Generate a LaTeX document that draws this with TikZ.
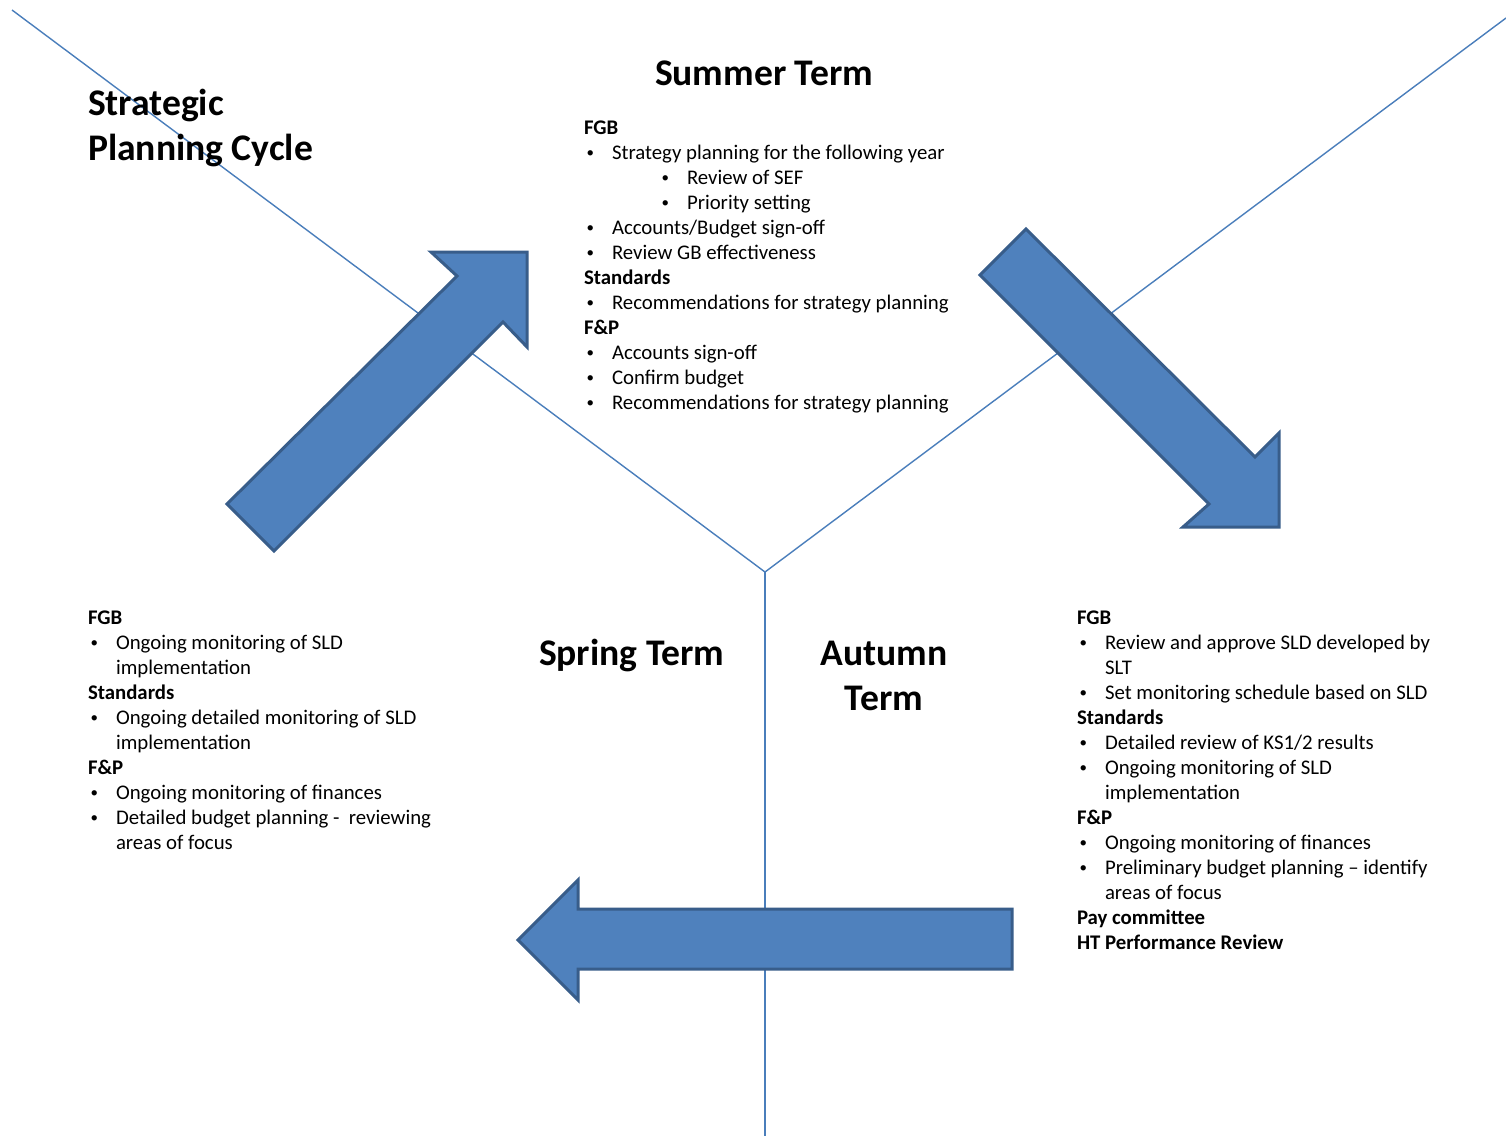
\documentclass[tikz,border=0pt]{standalone}
\usepackage{fontspec}
\setmainfont{Carlito}
\definecolor{arrowfill}{HTML}{4F81BD}
\definecolor{arrowedge}{HTML}{385D8A}
\definecolor{guide}{HTML}{4A7EBB}
\newcommand\mydot{\raisebox{1.6pt}{\scalebox{0.72}{•}}}
\newcommand\myhd[1]{\textbf{#1}\par}
\newcommand\mybl[1]{\makebox[28pt][l]{\hspace{2.5pt}\mydot}#1\par}
\newcommand\mycont[1]{\hspace*{28pt}#1\par}
\newcommand\mysub[1]{\makebox[103pt][l]{\hspace{77.5pt}\mydot}#1\par}
\newenvironment{myblock}{\begin{minipage}[t]{520pt}\raggedright\setlength\parindent{0pt}\fontsize{20.8}{25}\selectfont}{\end{minipage}}
\tikzset{
  bigarrow/.style={fill=arrowfill, draw=arrowedge, line width=3pt},
  guideline/.style={draw=guide, line width=1.4pt},
  txt/.style={inner sep=0pt, outer sep=0pt, anchor=base west},
  ttl/.style={inner sep=0pt, outer sep=0pt, font=\fontsize{37.6}{45}\selectfont\bfseries}
}
\begin{document}
\begin{tikzpicture}[x=1pt,y=-1pt]
\useasboundingbox (0,0) rectangle (1506,1136);
\fill[white] (0,0) rectangle (1506,1136);
% guide lines
\coordinate (hub) at (765,572);
\coordinate (tl) at (12,10);
\coordinate (tr) at (1506,18);
\coordinate (bot) at (765,1136);
\draw[guideline] (tl) -- (hub) -- (tr);
\draw[guideline] (hub) -- (bot);
% up-right arrow
\draw[bigarrow] (274,551) -- (503,322) -- (527,347) -- (527,252) -- (431,252) -- (457,276) -- (227,504) -- cycle;
% down-right arrow
\draw[bigarrow] (1026,229) -- (1255,457) -- (1279,433) -- (1279,527) -- (1183,527) -- (1209,504) -- (980,275) -- cycle;
% left arrow
\draw[bigarrow] (1012,909) -- (578,909) -- (578,880) -- (518,940) -- (578,1000) -- (578,969) -- (1012,969) -- cycle;
% titles
\node[ttl, anchor=base west] (title) at (88,115) {\parbox[t]{400pt}{\raggedright Strategic\\Planning Cycle}};
\node[ttl, anchor=base west] (summer) at (655,85) {Summer Term};
\node[ttl, anchor=base west] (spring) at (539,665) {Spring Term};
\node[ttl, anchor=base] (autumn) at (884,665) {\parbox[t]{200pt}{\centering Autumn\\Term}};
% summer block
\node[txt] (summertext) at (584,134) {\begin{myblock}
\myhd{FGB}
\mybl{Strategy planning for the following year}
\mysub{Review of SEF}
\mysub{Priority setting}
\mybl{Accounts/Budget sign-off}
\mybl{Review GB effectiveness}
\myhd{Standards}
\mybl{Recommendations for strategy planning}
\myhd{F\&P}
\mybl{Accounts sign-off}
\mybl{Confirm budget}
\mybl{Recommendations for strategy planning}
\end{myblock}};
% spring block
\node[txt] (springtext) at (88,624) {\begin{myblock}
\myhd{FGB}
\mybl{Ongoing monitoring of SLD}
\mycont{implementation}
\myhd{Standards}
\mybl{Ongoing detailed monitoring of SLD}
\mycont{implementation}
\myhd{F\&P}
\mybl{Ongoing monitoring of finances}
\mybl{Detailed budget planning -\ \ reviewing}
\mycont{areas of focus}
\end{myblock}};
% autumn block
\node[txt] (autumntext) at (1077,624) {\begin{myblock}
\myhd{FGB}
\mybl{Review and approve SLD developed by}
\mycont{SLT}
\mybl{Set monitoring schedule based on SLD}
\myhd{Standards}
\mybl{Detailed review of KS1/2 results}
\mybl{Ongoing monitoring of SLD}
\mycont{implementation}
\myhd{F\&P}
\mybl{Ongoing monitoring of finances}
\mybl{Preliminary budget planning – identify}
\mycont{areas of focus}
\myhd{Pay committee}
\myhd{HT Performance Review}
\end{myblock}};
\end{tikzpicture}
\end{document}
